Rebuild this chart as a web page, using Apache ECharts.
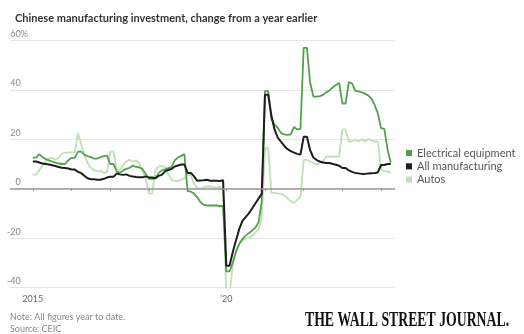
<!DOCTYPE html>
<html>
<head>
<meta charset="utf-8">
<script src="https://cdn.jsdelivr.net/npm/echarts@6/dist/echarts.min.js"></script>
<style>
html,body{margin:0;padding:0;background:#fff;}
#chart{width:524px;height:334px;}
</style>
</head>
<body>
<div id="chart"></div>
<script>
// Monthly year-to-date readings, Jan 2015 .. Apr 2024 (Jan shown equal to the Jan-Feb figure)
const startYear = 2015;
const seriesNames = ['Electrical equipment', 'All manufacturing', 'Autos'];
const yTicks = [-40, -20, 0, 20, 40, 60];
const yearTicks = [2015, 2016, 2017, 2018, 2019, 2020, 2021, 2022, 2023, 2024];
const yearLabels = [2015, 2020];

const electrical = [
  12.6, 12.6, 14.0, 12.8, 12.0, 11.5, 11.0, 10.6, 10.2, 10.0, 10.0, 11.5,   // 2015
  12.5, 12.5, 15.0, 15.0, 13.8, 13.2, 12.8, 12.2, 12.2, 12.8, 13.2, 13.4,   // 2016
  10.0, 10.0, 7.0, 6.5, 7.4, 8.0, 8.4, 9.4, 8.8, 8.6, 8.0, 6.0,            // 2017
  4.0, 4.0, 4.2, 6.3, 7.4, 7.8, 8.3, 8.7, 11.5, 12.6, 13.3, 14.0,          // 2018
  -1.0, -1.2, -2.0, -3.5, -5.5, -6.5, -6.8, -6.8, -6.8, -6.8, -7.0, -7.0,  // 2019
  -33.5, -33.5, -30.0, -25.5, -22.4, -20.4, -19.0, -18.0, -17.0, -15.8, -13.7, -5.0, // 2020
  39.5, 39.5, 28.0, 26.0, 24.5, 22.5, 22.0, 21.8, 22.0, 25.0, 24.0, 24.2,  // 2021
  57.0, 57.0, 43.0, 37.3, 37.3, 37.5, 38.0, 39.0, 39.8, 41.0, 42.0, 42.8,  // 2022
  34.5, 34.5, 43.2, 42.6, 39.6, 39.4, 39.0, 38.5, 37.8, 36.5, 34.0, 30.5,  // 2023
  24.5, 24.2, 16.0, 10.5                                                     // 2024
];
const allManufacturing = [
  11.0, 11.0, 10.6, 10.2, 10.0, 9.8, 9.5, 9.2, 8.8, 8.5, 8.4, 8.2,          // 2015
  7.8, 7.8, 6.8, 6.3, 5.2, 4.2, 3.8, 3.8, 3.6, 3.6, 4.0, 4.5,               // 2016
  4.8, 4.8, 6.2, 5.8, 5.6, 5.8, 5.2, 4.9, 4.7, 4.6, 4.6, 5.0,               // 2017
  4.5, 4.5, 4.2, 5.2, 5.6, 7.0, 7.6, 8.0, 9.0, 9.4, 9.8, 9.8,               // 2018
  6.4, 6.4, 5.0, 3.2, 3.3, 3.4, 3.6, 3.2, 3.2, 3.2, 3.1, 3.4,               // 2019
  -31.2, -31.2, -25.7, -21.0, -16.4, -13.0, -11.5, -10.0, -8.0, -6.0, -4.0, -2.0, // 2020
  38.0, 38.0, 29.5, 23.8, 20.6, 19.0, 17.3, 16.0, 15.2, 14.6, 14.1, 13.8,  // 2021
  21.0, 21.0, 15.6, 12.6, 11.6, 11.0, 10.6, 10.4, 10.4, 10.0, 9.7, 9.3,    // 2022
  8.4, 8.4, 7.4, 6.8, 6.4, 6.2, 6.0, 6.0, 6.2, 6.3, 6.4, 6.6,               // 2023
  9.6, 9.6, 10.0, 10.0                                                       // 2024
];
const autos = [
  5.7, 5.7, 7.5, 9.5, 11.0, 12.4, 12.5, 11.7, 12.4, 14.2, 14.5, 14.7,      // 2015
  14.7, 14.7, 22.5, 18.0, 13.5, 10.4, 8.5, 7.4, 7.0, 7.3, 6.3, 6.8,        // 2016
  15.0, 15.0, 7.7, 7.7, 9.6, 11.0, 11.7, 11.0, 11.5, 10.4, 7.0, 4.0,       // 2017
  -2.0, -2.0, 7.5, 9.0, 9.0, 8.8, 6.0, 3.6, 3.2, 3.0, 3.6, 4.3,            // 2018
  5.5, 5.5, 2.0, 0.3, 0.0, 0.6, 0.9, 0.9, 0.6, 0.3, 0.8, 0.0,              // 2019
  -43.0, -43.0, -31.0, -25.0, -22.5, -21.0, -20.3, -19.8, -19.2, -17.8, -16.6, -12.0, // 2020
  16.5, 16.5, -1.7, -1.7, -1.9, -2.0, -2.8, -3.8, -5.1, -5.8, -4.5, -3.2,  // 2021
  11.7, 11.7, 11.0, 10.4, 9.7, 10.5, 11.0, 13.0, 13.0, 13.0, 13.0, 13.0,   // 2022
  23.9, 23.9, 19.1, 19.1, 19.8, 19.1, 20.1, 19.1, 20.1, 19.6, 19.1, 19.1,  // 2023
  7.7, 7.0, 7.0, 6.3                                                         // 2024
];

function toPairs(arr) {
  return arr.map((v, i) => [startYear + i / 12, v]);
}

const colors = { ee: '#52a24c', all: '#1e1e1e', autos: '#bfe0b3' };
const chart = echarts.init(document.getElementById('chart'), null, { renderer: 'canvas' });
const font = 'Lato, "Open Sans", sans-serif';

chart.setOption({
  animation: false,
  textStyle: { fontFamily: font },
  title: {
    text: 'Chinese manufacturing investment, change from a year earlier',
    left: 10, top: 8,
    textStyle: { fontSize: 11, fontWeight: 'bold', color: '#333', fontFamily: font }
  },
  grid: { left: 10, right: 129, top: 40.5, bottom: 46.5, containLabel: false },
  legend: {
    data: seriesNames,
    orient: 'vertical',
    left: 406, top: 146.5,
    padding: 0,
    icon: 'rect', itemWidth: 6, itemHeight: 6, itemGap: 0.3,
    textStyle: { fontSize: 11, color: '#555', lineHeight: 13, fontFamily: font }
  },
  xAxis: {
    type: 'value',
    min: 2014.41, max: 2024.36,
    offset: 2,
    axisLine: { show: false },
    axisTick: { show: true, length: 2, customValues: yearTicks, lineStyle: { color: '#777', width: 1 } },
    axisLabel: {
      customValues: yearLabels,
      formatter: v => (Math.round(v) === 2015 ? '2015' : '\u201920'),
      color: '#666', fontSize: 9, margin: 5
    },
    splitLine: { show: false }
  },
  yAxis: {
    type: 'value',
    min: -40, max: 60, interval: 20,
    axisLine: { show: false },
    axisTick: { show: false },
    axisLabel: {
      inside: true,
      align: 'right',
      verticalAlign: 'bottom',
      margin: 18,
      padding: [0, 0, 2, 0],
      color: '#888', fontSize: 9,
      formatter: v => (v === 60 ? '60%' : v + '{h|%}'),
      rich: { h: { color: 'rgba(0,0,0,0)', fontSize: 9 } }
    },
    splitLine: { show: true, lineStyle: { color: '#e6e6e6', width: 1 } }
  },
  series: [
    {
      name: 'Autos', type: 'line', data: toPairs(autos),
      showSymbol: false, color: colors.autos,
      lineStyle: { width: 1.8, color: colors.autos },
      markLine: {
        silent: true, symbol: 'none', label: { show: false },
        lineStyle: { color: '#999', width: 1.6, type: 'solid' },
        data: [{ yAxis: 0 }]
      },
      z: 2
    },
    {
      name: 'Electrical equipment', type: 'line', data: toPairs(electrical),
      showSymbol: false, color: colors.ee,
      lineStyle: { width: 1.8, color: colors.ee },
      z: 3
    },
    {
      name: 'All manufacturing', type: 'line', data: toPairs(allManufacturing),
      showSymbol: false, color: colors.all,
      lineStyle: { width: 2, color: colors.all },
      z: 4
    }
  ],
  graphic: [
    { type: 'text', left: 10, top: 313, style: { text: 'Note: All figures year to date.', fill: '#888', font: '9px ' + font } },
    { type: 'text', left: 10, top: 325, style: { text: 'Source: CEIC', fill: '#888', font: '9px ' + font } },
    { type: 'text', x: 305, y: 310, scaleX: 0.655, scaleY: 1,
      style: { text: 'THE WALL STREET JOURNAL.', fill: '#111', font: 'bold 21px "Liberation Serif", "DejaVu Serif", serif', textVerticalAlign: 'top' } }
  ]
});
</script>
</body>
</html>
